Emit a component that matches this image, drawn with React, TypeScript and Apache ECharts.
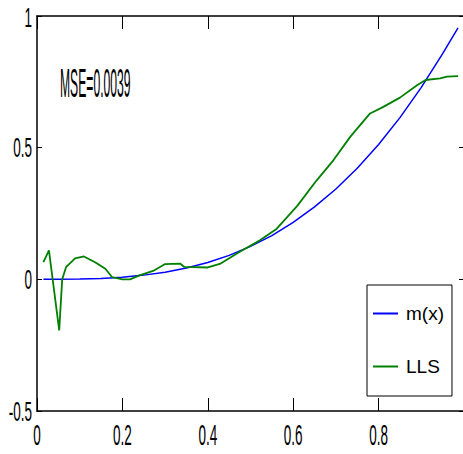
import React, { useEffect, useRef } from "react";
import * as echarts from "echarts";

const mX = [0.015, 0.05, 0.1, 0.15, 0.2, 0.25, 0.3, 0.35, 0.4, 0.45, 0.5, 0.55, 0.6, 0.65, 0.7, 0.75, 0.8, 0.85, 0.9, 0.95, 0.986];
const mY = [0, 0, 0.001, 0.003, 0.008, 0.016, 0.027, 0.043, 0.064, 0.091, 0.125, 0.166, 0.216, 0.275, 0.343, 0.422, 0.512, 0.614, 0.729, 0.857, 0.955];

const llsX = [0.015, 0.028, 0.052, 0.059, 0.068, 0.089, 0.11, 0.136, 0.16, 0.176, 0.2, 0.218, 0.24, 0.272, 0.3, 0.335, 0.345, 0.4, 0.43, 0.475, 0.522, 0.56, 0.61, 0.655, 0.694, 0.733, 0.78, 0.81, 0.85, 0.89, 0.91, 0.944, 0.96, 0.986];
const llsY = [0.065, 0.11, -0.194, 0, 0.046, 0.08, 0.087, 0.065, 0.04, 0.008, 0, 0, 0.015, 0.032, 0.058, 0.06, 0.047, 0.045, 0.06, 0.105, 0.148, 0.19, 0.28, 0.376, 0.452, 0.54, 0.63, 0.654, 0.69, 0.737, 0.757, 0.763, 0.77, 0.772];

const xTickLabels = [0, 0.2, 0.4, 0.6, 0.8];
const yTickLabels = [-0.5, 0, 0.5, 1];
const mseText = "MSE=0.0039";

const FONT = "'Liberation Sans', Arial, sans-serif";

export default function App() {
  const ref = useRef<HTMLDivElement>(null);
  useEffect(() => {
    document.body.style.margin = "0";
    const chart = echarts.init(ref.current!, undefined, { renderer: "svg" });
    const axisLine = { show: true, onZero: false, lineStyle: { color: "#000", width: 1.5 } };
    const xTick = { show: true, inside: true, length: 13, lineStyle: { color: "#000", width: 1 } };
    const yTick = { show: true, inside: true, length: 5, lineStyle: { color: "#000", width: 1 } };
    const option: any = {
      animation: false,
      backgroundColor: "#fff",
      grid: { left: 37, top: 16, width: 427, height: 395, outerBoundsMode: "none", containLabel: false },
      xAxis: [
        { type: "value", min: 0, max: 1, interval: 0.2, position: "bottom", axisLine, axisTick: xTick, axisLabel: { show: false }, splitLine: { show: false } },
        { type: "value", min: 0, max: 1, interval: 0.2, position: "top", axisLine, axisTick: xTick, axisLabel: { show: false }, splitLine: { show: false } },
      ],
      yAxis: [
        { type: "value", min: -0.5, max: 1, interval: 0.5, position: "left", axisLine, axisTick: yTick, axisLabel: { show: false }, splitLine: { show: false } },
        { type: "value", min: -0.5, max: 1, interval: 0.5, position: "right", axisLine, axisTick: yTick, axisLabel: { show: false }, splitLine: { show: false } },
      ],
      legend: {
        orient: "vertical",
        left: 367,
        top: 285,
        backgroundColor: "#fff",
        borderColor: "#000",
        borderWidth: 1,
        borderRadius: 0,
        padding: [19, 8, 20, 6],
        itemGap: 34,
        itemWidth: 25,
        itemHeight: 2,
        icon: "rect",
        textStyle: { fontFamily: FONT, fontSize: 19, color: "#000", padding: [0, 0, 0, 3] },
        data: ["m(x)", "LLS"],
      },
      series: [
        {
          name: "m(x)", type: "line", xAxisIndex: 0, yAxisIndex: 0, symbol: "none", smooth: false,
          lineStyle: { color: "#0000ff", width: 1.5 }, itemStyle: { color: "#0000ff" },
          data: mX.map((x, i) => [x, mY[i]]),
        },
        {
          name: "LLS", type: "line", xAxisIndex: 0, yAxisIndex: 0, symbol: "none", smooth: false,
          lineStyle: { color: "#008000", width: 1.8 }, itemStyle: { color: "#008000" },
          data: llsX.map((x, i) => [x, llsY[i]]),
        },
      ],
    };
    chart.setOption(option);

    const axisX = chart.convertToPixel({ xAxisIndex: 0 }, 0) as number;
    const axisY = chart.convertToPixel({ yAxisIndex: 0 }, -0.5) as number;
    const graphics: any[] = [];
    xTickLabels.forEach((v) => {
      graphics.push({
        type: "text",
        x: chart.convertToPixel({ xAxisIndex: 0 }, v) as number,
        y: axisY + 24,
        scaleX: 0.9,
        scaleY: 2.0,
        style: { text: String(v), fontFamily: FONT, fontSize: 15, fill: "#000", align: "center", verticalAlign: "middle" },
      });
    });
    yTickLabels.forEach((v) => {
      const py = chart.convertToPixel({ yAxisIndex: 0 }, v) as number;
      graphics.push({
        type: "text",
        x: axisX - 5,
        y: Math.max(py, 17),
        scaleX: 0.9,
        scaleY: 1.9,
        style: { text: String(v), fontFamily: FONT, fontSize: 15, fill: "#000", align: "right", verticalAlign: "middle" },
      });
    });
    graphics.push({
      type: "text",
      x: 60,
      y: 83,
      scaleX: 0.81,
      scaleY: 2.7,
      style: { text: mseText, fontFamily: FONT, fontSize: 15, fill: "#000", align: "left", verticalAlign: "middle" },
    });
    chart.setOption({ graphic: graphics });

    return () => chart.dispose();
  }, []);
  return <div ref={ref} style={{ position: "absolute", left: 0, top: 0, width: 463, height: 454 }} />;
}
